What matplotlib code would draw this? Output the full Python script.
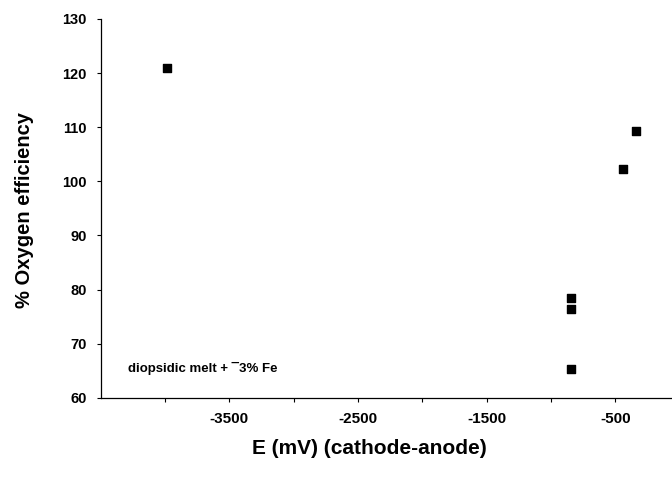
import numpy as np
import matplotlib.pyplot as plt

# data
e_mv = [-3987, -848, -848, -848, -444, -343]
eff = [120.9, 78.5, 76.4, 65.4, 102.3, 109.3]

xticks = [-3500, -2500, -1500, -500]
xminor = [-4000, -3000, -2000, -1000]
yticks = [60, 70, 80, 90, 100, 110, 120, 130]

plt.rcParams['font.family'] = ['Liberation Sans', 'DejaVu Sans']

fig = plt.figure(figsize=(6.72, 4.83), dpi=100)
ax = fig.add_axes([0.150, 0.176, 0.848, 0.785])

ax.scatter(e_mv, eff, marker='s', s=28, color='black', zorder=3)

ax.set_xlim(-4500, -70)
ax.set_ylim(60, 130)
ax.set_xticks(xticks)
ax.set_xticks(xminor, minor=True)
ax.set_yticks(yticks)
ax.set_xticklabels([str(t) for t in xticks], fontsize=11, fontweight='bold')
ax.set_yticklabels([str(t) for t in yticks], fontsize=10.5, fontweight='bold')
ax.tick_params(axis='x', which='both', length=3, pad=7, width=0.8)
ax.tick_params(axis='y', length=3, pad=7, width=0.8)

for s in ['top', 'right']:
    ax.spines[s].set_visible(False)
for s in ['left', 'bottom']:
    ax.spines[s].set_linewidth(0.9)

ax.text(-4290, 65.5, 'diopsidic melt + \u00af3% Fe', fontsize=9.5, fontweight='bold',
        va='center', ha='left')

fig.text(0.550, 0.072, 'E (mV) (cathode-anode)', fontsize=15, fontweight='bold',
         ha='center', va='center')
fig.text(0.036, 0.565, '% Oxygen efficiency', fontsize=14.5, fontweight='bold',
         ha='center', va='center', rotation=90)

fig.savefig('out.png', dpi=100)
